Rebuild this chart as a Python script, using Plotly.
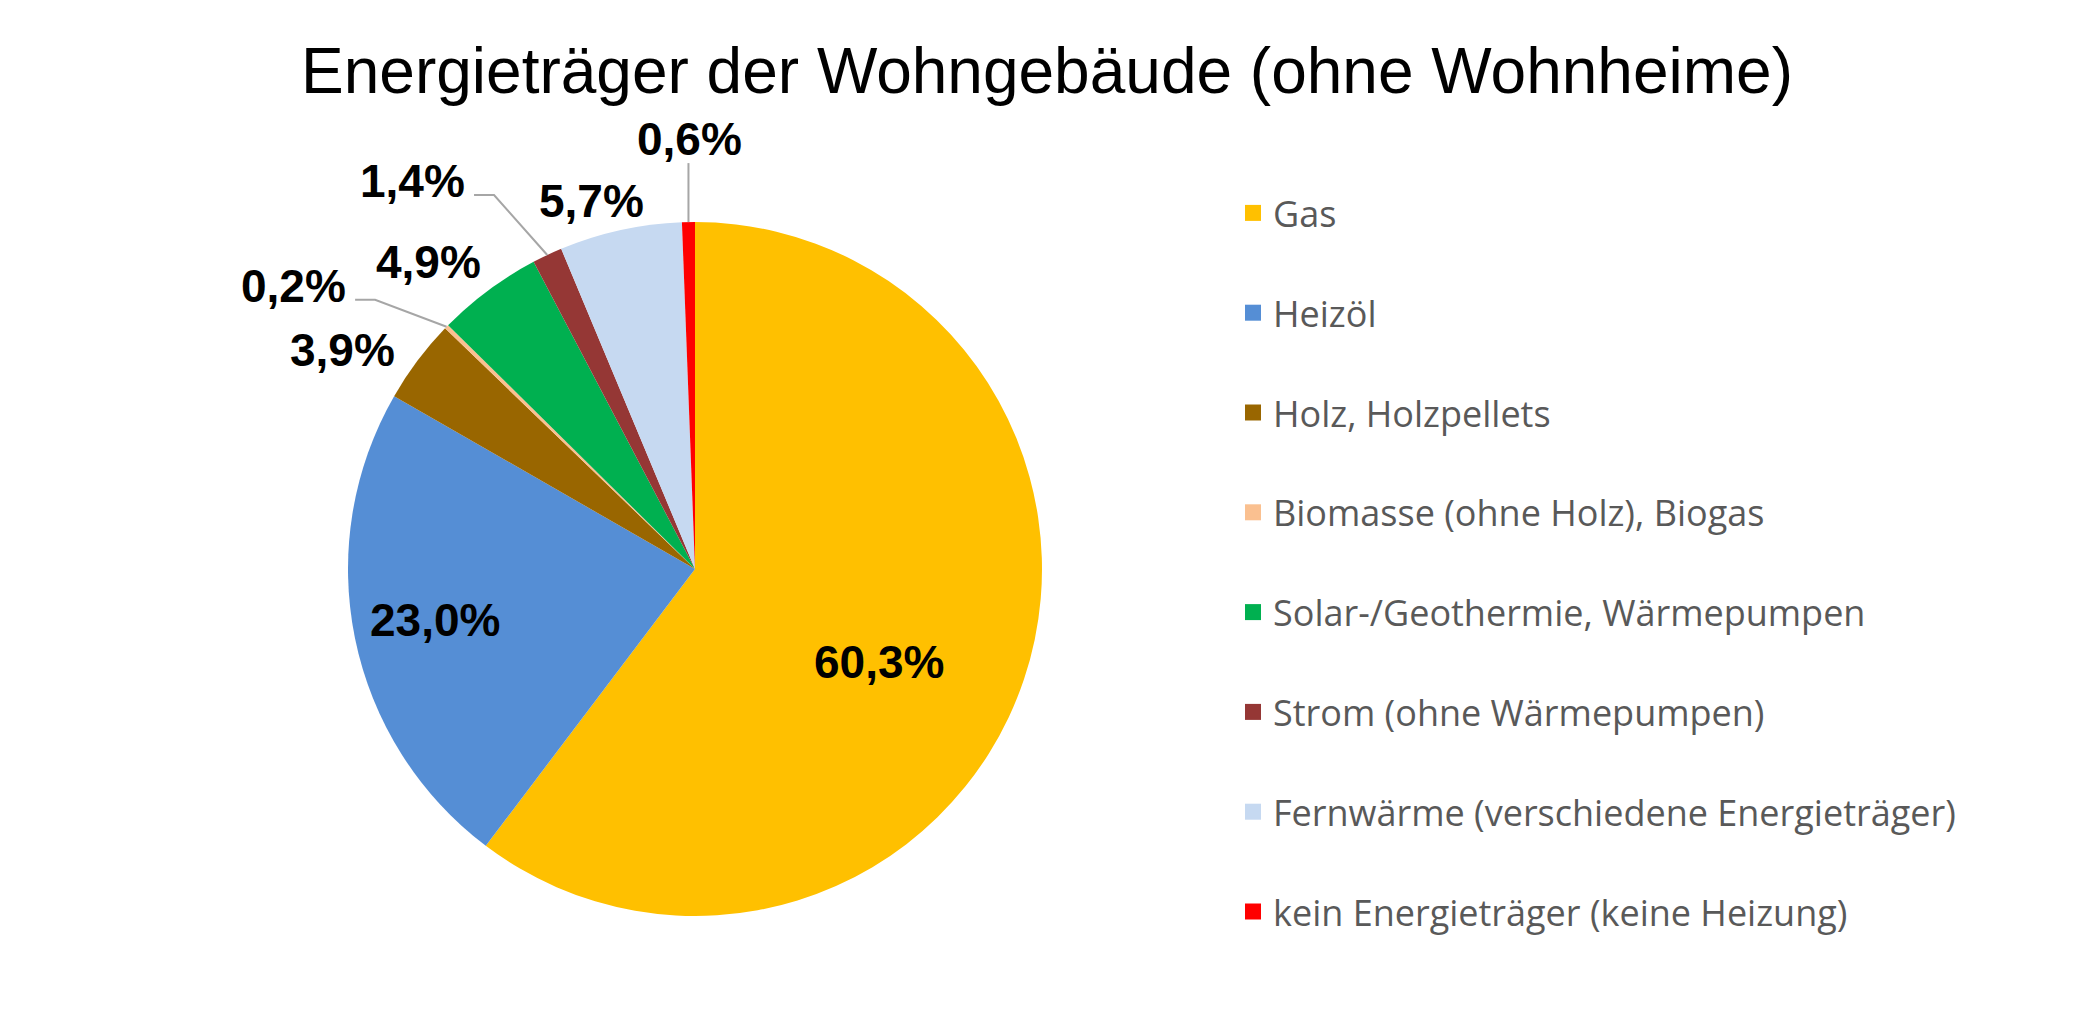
#!/usr/bin/env python3
"""Pie chart: Energieträger der Wohngebäude (ohne Wohnheime)."""
import math

import plotly.graph_objects as go

W, H = 2090, 1024
PAGE_OFFSET = 8  # default body margin of the html page

labels = [
    "Gas",
    "Heizöl",
    "Holz, Holzpellets",
    "Biomasse (ohne Holz), Biogas",
    "Solar-/Geothermie, Wärmepumpen",
    "Strom (ohne Wärmepumpen)",
    "Fernwärme (verschiedene Energieträger)",
    "kein Energieträger (keine Heizung)",
]
shares = [60.3, 23.0, 3.9, 0.2, 4.9, 1.4, 5.7, 0.6]
colors = ["#FFC000", "#558ED5", "#996600", "#FAC090",
          "#00B050", "#953735", "#C6D9F1", "#FF0000"]

# label placement (radius factor of pie radius, angle offset in degrees, leader kind)
label_radius = [0.595, 0.764, 1.195, 1.417, 1.171, 1.384, 1.102, 1.239]
label_shift = [8.2, 0.4, -5.0, -9.1, -4.4, -10.9, -3.3, 0.4]
leader = [None, None, None, "elbow", None, "elbow", None, "vertical"]

# pie geometry in screen pixels
CX, CY, R = 695, 569, 347


def px(x):
    return (x - PAGE_OFFSET) / W


def py(y):
    return 1 - (y - PAGE_OFFSET) / H


fig = go.Figure()
fig.add_trace(go.Pie(
    labels=labels, values=shares, sort=False, direction="clockwise", rotation=0,
    marker=dict(colors=colors, line=dict(width=0)),
    textinfo="none", showlegend=False,
    hovertemplate="%{label}: %{value:.1f}%<extra></extra>",
    domain=dict(x=[px(CX - R - 30), px(CX + R + 30)],
                y=[py(CY + R), py(CY - R)]),
))

# legend entries as dummy traces so the spacing can be controlled
for lab, col in zip(labels, colors):
    fig.add_trace(go.Scatter(
        x=[None], y=[None], mode="markers", name=lab, legendgroup=lab,
        marker=dict(symbol="square", size=22, color=col),
        hoverinfo="skip",
    ))

annotations = []
shapes = []
cum = 0.0
for i, v in enumerate(shares):
    mid = (cum + v / 2) / 100 * 360
    cum += v
    ang = math.radians(mid + label_shift[i])
    lx = CX + R * label_radius[i] * math.sin(ang)
    ly = CY - R * label_radius[i] * math.cos(ang)
    annotations.append(dict(
        x=px(lx), y=py(ly), xref="paper", yref="paper",
        text=f"<b>{v:.1f}%</b>".replace(".", ","), showarrow=False,
        xanchor="center", yanchor="middle",
        font=dict(family="Liberation Sans, Arial", size=46, color="black"),
    ))
    if leader[i]:
        sx = CX + R * math.sin(math.radians(mid))
        sy = CY - R * math.cos(math.radians(mid))
        if leader[i] == "elbow":
            ex, ey = lx + 62, ly + 14
            path = f"M{px(sx)},{py(sy)} L{px(ex + 20)},{py(ey)} L{px(ex)},{py(ey)}"
        else:
            path = f"M{px(sx)},{py(sy)} L{px(sx)},{py(ly + 24)}"
        shapes.append(dict(type="path", path=path, xref="paper", yref="paper",
                           line=dict(color="#A6A6A6", width=2)))

fig.update_layout(
    width=W, height=H,
    margin=dict(l=0, r=0, t=0, b=0),
    paper_bgcolor="white", plot_bgcolor="white",
    title=dict(text="Energieträger der Wohngebäude (ohne Wohnheime)",
               x=px(1047), xanchor="center", y=py(71), yanchor="middle",
               font=dict(family="Liberation Sans, Arial", size=64, color="black")),
    xaxis=dict(visible=False), yaxis=dict(visible=False),
    legend=dict(x=px(1233), xanchor="left", y=py(183), yanchor="top",
                traceorder="grouped", tracegroupgap=50,
                font=dict(family="Open Sans", size=36, color="#595959"),
                bgcolor="rgba(0,0,0,0)"),
    annotations=annotations,
    shapes=shapes,
)

fig.write_html("out.html")
